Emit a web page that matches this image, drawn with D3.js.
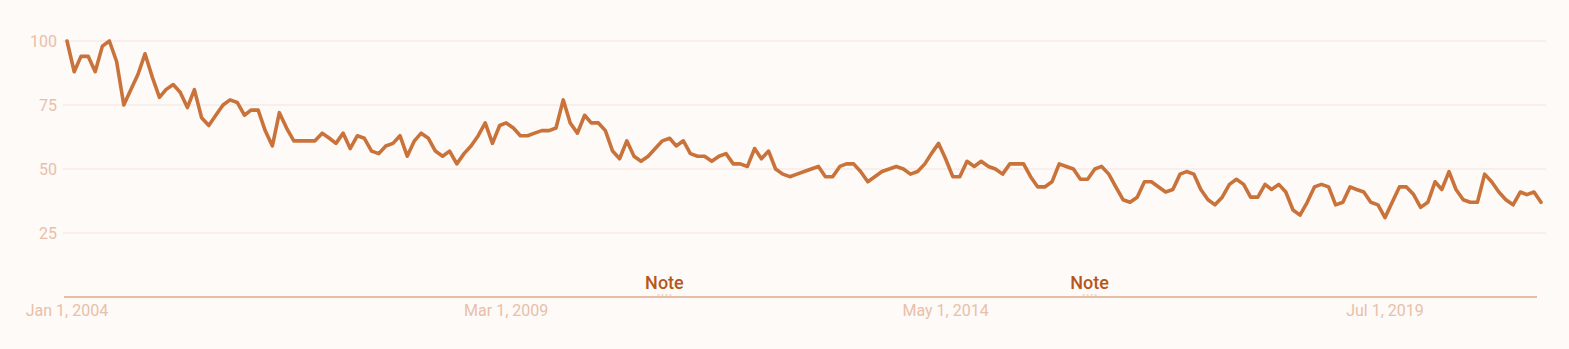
<!DOCTYPE html>
<html>
<head>
<meta charset="utf-8">
<script src="https://cdn.jsdelivr.net/npm/d3@7"></script>
<style>
  html, body { margin: 0; padding: 0; background: #fdfaf8; }
  svg { display: block; font-family: Roboto, "Noto Sans", sans-serif; }
</style>
</head>
<body>
<div id="chart"></div>
<script>
// Monthly interest, Jan 2004 .. May 2021
const startMonth = new Date(2004, 0, 1);
const interest = [
  100, 88, 94, 94, 88, 98, 100, 92, 75, 81, 87, 95, 86, 78, 81, 83, 80, 74, 81, 70,
  67, 71, 75, 77, 76, 71, 73, 73, 65, 59, 72, 66, 61, 61, 61, 61, 64, 62, 60, 64,
  58, 63, 62, 57, 56, 59, 60, 63, 55, 61, 64, 62, 57, 55, 57, 52, 56, 59, 63, 68,
  60, 67, 68, 66, 63, 63, 64, 65, 65, 66, 77, 68, 64, 71, 68, 68, 65, 57, 54, 61,
  55, 53, 55, 58, 61, 62, 59, 61, 56, 55, 55, 53, 55, 56, 52, 52, 51, 58, 54, 57,
  50, 48, 47, 48, 49, 50, 51, 47, 47, 51, 52, 52, 49, 45, 47, 49, 50, 51, 50, 48,
  49, 52, 56, 60, 54, 47, 47, 53, 51, 53, 51, 50, 48, 52, 52, 52, 47, 43, 43, 45,
  52, 51, 50, 46, 46, 50, 51, 48, 43, 38, 37, 39, 45, 45, 43, 41, 42, 48, 49, 48,
  42, 38, 36, 39, 44, 46, 44, 39, 39, 44, 42, 44, 41, 34, 32, 37, 43, 44, 43, 36,
  37, 43, 42, 41, 37, 36, 31, 37, 43, 43, 40, 35, 37, 45, 42, 49, 42, 38, 37, 37,
  48, 45, 41, 38, 36, 41, 40, 41, 37
];
const yTicks = [25, 50, 75, 100];
const xTickDates = [new Date(2004, 0, 1), new Date(2009, 2, 1), new Date(2014, 4, 1), new Date(2019, 6, 1)];
const noteDates = [new Date(2011, 0, 1), new Date(2016, 0, 1)];

const data = interest.map((v, i) => ({
  date: d3.timeMonth.offset(startMonth, i),
  value: v
}));

const width = 1569, height = 349;
const svg = d3.select('#chart').append('svg')
  .attr('width', width)
  .attr('height', height);

const x = d3.scaleTime()
  .domain([data[0].date, data[data.length - 1].date])
  .range([67, 1541]);

const y = d3.scaleLinear()
  .domain([0, 100])
  .range([297, 41]);

// gridlines
svg.append('g')
  .selectAll('line')
  .data(yTicks)
  .join('line')
  .attr('x1', 63)
  .attr('x2', 1546)
  .attr('y1', d => y(d))
  .attr('y2', d => y(d))
  .attr('stroke', '#f6e2d9')
  .attr('stroke-width', 1.2);

// y labels
svg.append('g')
  .selectAll('text')
  .data(yTicks)
  .join('text')
  .attr('x', 57)
  .attr('y', d => y(d))
  .attr('dy', '0.35em')
  .attr('text-anchor', 'end')
  .attr('font-size', '16px')
  .attr('fill', '#e8c0a8')
  .text(d => d);

// baseline axis
svg.append('line')
  .attr('x1', 64)
  .attr('x2', 1537)
  .attr('y1', y(0))
  .attr('y2', y(0))
  .attr('stroke', '#dcaa8a')
  .attr('stroke-width', 1.5);

// x labels
const fmt = d3.timeFormat('%b %-d, %Y');
svg.append('g')
  .selectAll('text')
  .data(xTickDates)
  .join('text')
  .attr('x', d => x(d))
  .attr('y', 316)
  .attr('text-anchor', 'middle')
  .attr('font-size', '16px')
  .attr('fill', '#e8c0a8')
  .text(d => fmt(d));

// note annotations
const notes = svg.append('g')
  .selectAll('g')
  .data(noteDates)
  .join('g')
  .attr('transform', d => `translate(${x(d) + 2},0)`);

notes.append('text')
  .attr('y', 289)
  .attr('text-anchor', 'middle')
  .attr('font-size', '18px')
  .attr('font-weight', 500)
  .attr('fill', '#b8561a')
  .text('Note');

notes.append('line')
  .attr('x1', -7)
  .attr('x2', 7)
  .attr('y1', 295)
  .attr('y2', 295)
  .attr('stroke', '#e0b9a0')
  .attr('stroke-width', 1)
  .attr('stroke-dasharray', '2,2');

// series line
const line = d3.line()
  .x(d => x(d.date))
  .y(d => y(d.value));

svg.append('path')
  .datum(data)
  .attr('fill', 'none')
  .attr('stroke', '#c9733b')
  .attr('stroke-width', 3.6)
  .attr('stroke-linejoin', 'round')
  .attr('stroke-linecap', 'round')
  .attr('d', line);
</script>
</body>
</html>
